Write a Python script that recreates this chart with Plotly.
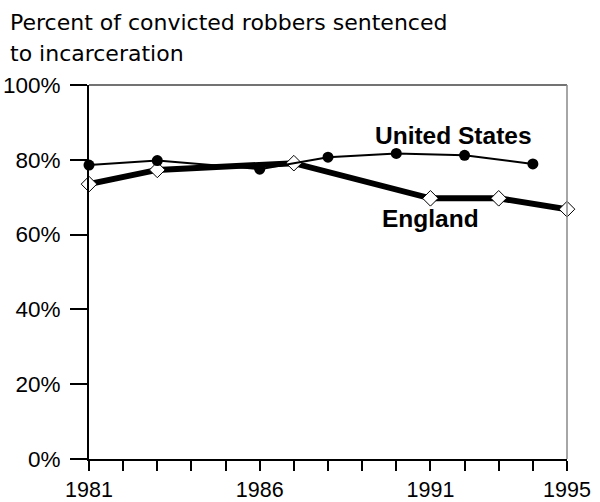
import plotly.graph_objects as go

years_tick = list(range(1981, 1996))
tick_text = ["1981", "", "", "", "", "1986", "", "", "", "", "1991", "", "", "", "1995"]

us_years = [1981, 1983, 1986, 1988, 1990, 1992, 1994]
us_vals = [0.786, 0.798, 0.775, 0.807, 0.817, 0.812, 0.789]

eng_years = [1981, 1983, 1987, 1991, 1993, 1995]
eng_vals = [0.735, 0.773, 0.791, 0.697, 0.697, 0.668]

y_ticks = [0, 0.2, 0.4, 0.6, 0.8, 1.0]

FONT = "Liberation Sans, Arial, sans-serif"
TITLE_FONT = "DejaVu Sans, sans-serif"

L, R, T, B = 89, 33, 85, 43
PW, PH = 600 - L - R, 502 - T - B

fig = go.Figure()
fig.add_trace(go.Scatter(
    x=eng_years, y=eng_vals, mode="lines+markers",
    line=dict(color="black", width=6),
    marker=dict(symbol="diamond", size=12, color="white", line=dict(color="black", width=1)),
    cliponaxis=False, showlegend=False))
fig.add_trace(go.Scatter(
    x=us_years, y=us_vals, mode="lines+markers",
    line=dict(color="black", width=2),
    marker=dict(symbol="circle", size=11, color="black"),
    cliponaxis=False, showlegend=False))

fig.update_layout(
    width=600, height=502,
    margin=dict(l=L, r=R, t=T, b=B),
    paper_bgcolor="white", plot_bgcolor="white",
    font=dict(family=FONT, size=22, color="black"),
    xaxis=dict(range=[1981, 1995], tickmode="array", tickvals=years_tick, ticktext=tick_text,
               ticks="outside", ticklen=10, tickcolor="black", tickwidth=1.5,
               showline=True, linecolor="black", linewidth=2, showgrid=False, zeroline=False,
               tickfont=dict(size=21.5), ticklabelstandoff=0, automargin=False),
    yaxis=dict(range=[0, 1], tickmode="array", tickvals=y_ticks, tickformat=".0%",
               ticks="outside", ticklen=17, tickcolor="black", tickwidth=1.5,
               showline=True, linecolor="black", linewidth=2, showgrid=False, zeroline=False,
               tickfont=dict(size=22.5), ticklabelstandoff=5, automargin=False),
)

# top and right frame
fig.add_shape(type="line", xref="paper", yref="paper", x0=0, x1=1, y0=1, y1=1,
              line=dict(color="#444444", width=1.5))
fig.add_shape(type="line", xref="paper", yref="paper", x0=1, x1=1, y0=0, y1=1,
              line=dict(color="#888888", width=1.5))

fig.add_annotation(text="Percent of convicted robbers sentenced", xref="paper", yref="paper",
                   x=(8 - L) / PW, y=1 + (T - 22) / PH, xanchor="left", yanchor="middle",
                   showarrow=False, font=dict(family=TITLE_FONT, size=22))
fig.add_annotation(text="to incarceration", xref="paper", yref="paper",
                   x=(8 - L) / PW, y=1 + (T - 54) / PH, xanchor="left", yanchor="middle",
                   showarrow=False, font=dict(family=TITLE_FONT, size=22))

fig.add_annotation(text="<b>United States</b>", x=1991.67, y=0.865, xref="x", yref="y",
                   showarrow=False, font=dict(size=24.5))
fig.add_annotation(text="<b>England</b>", x=1991.0, y=0.643, xref="x", yref="y",
                   showarrow=False, font=dict(size=24.5))

fig.write_html("out.html", config={"displayModeBar": False},
               post_script="document.body.style.margin='0';")
